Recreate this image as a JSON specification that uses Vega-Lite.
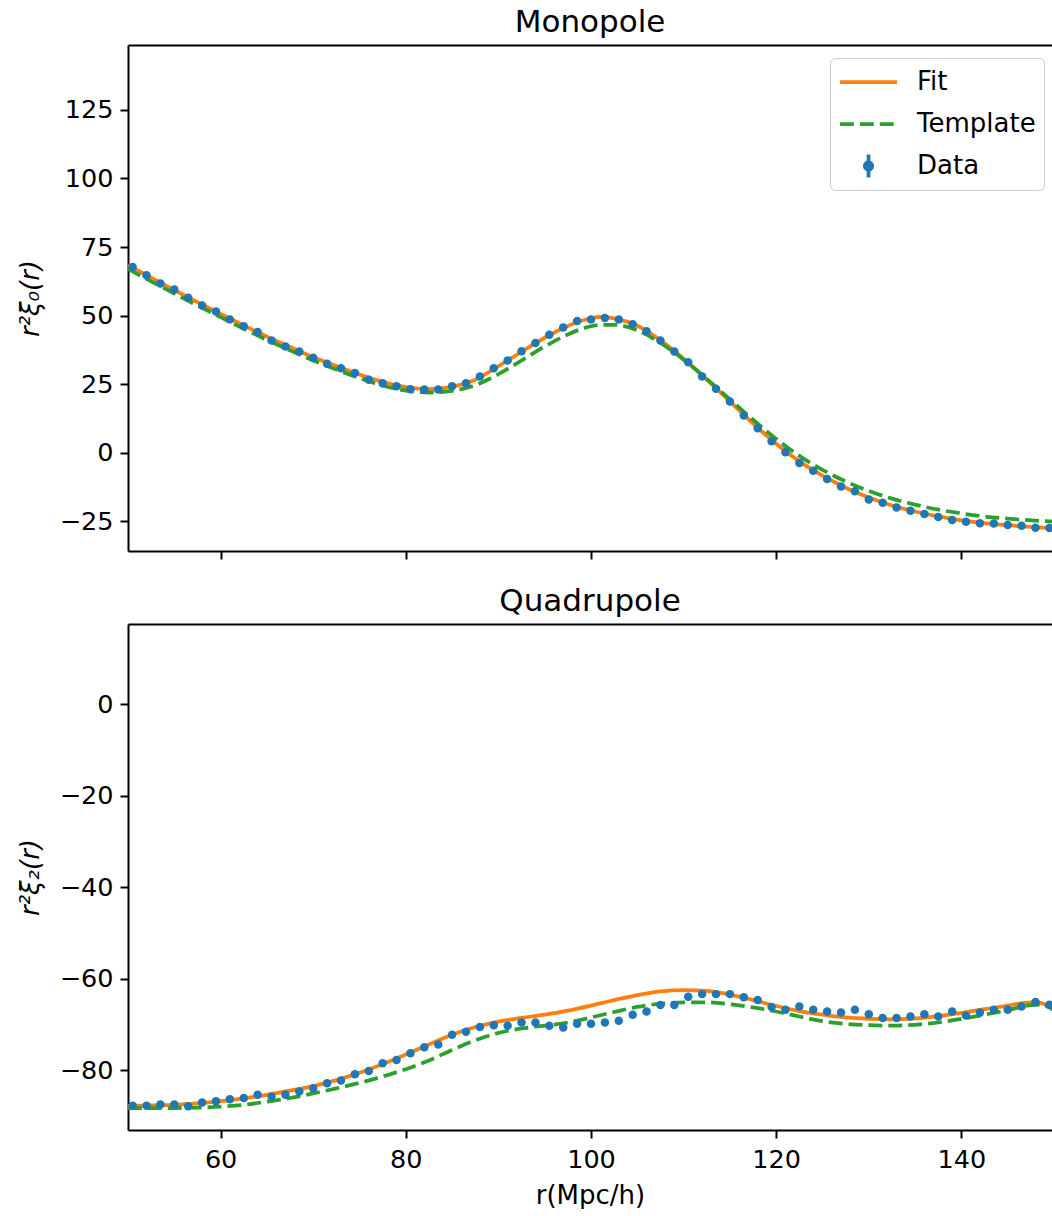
{
  "$schema": "https://vega.github.io/schema/vega-lite/v6.json",
  "padding": {"left": 17, "top": 7, "right": 0, "bottom": 0},
  "background": "white",
  "spacing": 26,
  "config": {
    "font": "DejaVu Sans",
    "view": {"stroke": null},
    "axis": {"grid": false, "domain": true, "domainColor": "black", "domainWidth": 2, "tickColor": "black", "tickWidth": 2, "tickSize": 8, "labelFontSize": 25.5, "labelColor": "black", "labelPadding": 7, "titleFontSize": 26, "titleFontWeight": "normal", "titleColor": "black", "labelFont": "DejaVu Sans", "titleFont": "DejaVu Sans"},
    "title": {"fontSize": 31, "fontWeight": "normal", "color": "black", "font": "DejaVu Sans"}
  },
  "resolve": {"legend": {"color": "independent"}},
  "datasets": {
    "mono": [
      {"s":"Fit","r":50,"v":68.4},{"s":"Fit","r":52.5,"v":63.8},{"s":"Fit","r":55,"v":59.3},{"s":"Fit","r":57.5,"v":54.9},{"s":"Fit","r":60,"v":50.6},{"s":"Fit","r":62.5,"v":46.4},{"s":"Fit","r":65,"v":42.3},{"s":"Fit","r":67.5,"v":38.5},{"s":"Fit","r":70,"v":34.8},{"s":"Fit","r":72.5,"v":31.6},{"s":"Fit","r":75,"v":28.5},{"s":"Fit","r":77.5,"v":25.8},{"s":"Fit","r":80,"v":23.9},{"s":"Fit","r":82.5,"v":23.2},{"s":"Fit","r":85,"v":24.0},{"s":"Fit","r":87.5,"v":26.6},{"s":"Fit","r":90,"v":31.5},{"s":"Fit","r":92.5,"v":36.8},{"s":"Fit","r":95,"v":41.9},{"s":"Fit","r":97.5,"v":46.2},{"s":"Fit","r":100,"v":49.0},{"s":"Fit","r":101,"v":49.5},{"s":"Fit","r":102.5,"v":49.0},{"s":"Fit","r":105,"v":46.3},{"s":"Fit","r":107.5,"v":41.0},{"s":"Fit","r":110,"v":34.3},{"s":"Fit","r":112.5,"v":26.6},{"s":"Fit","r":115,"v":18.7},{"s":"Fit","r":117.5,"v":10.6},{"s":"Fit","r":120,"v":3.2},{"s":"Fit","r":122.5,"v":-3.2},{"s":"Fit","r":125,"v":-8.4},{"s":"Fit","r":127.5,"v":-12.8},{"s":"Fit","r":130,"v":-16.4},{"s":"Fit","r":132.5,"v":-19.3},{"s":"Fit","r":135,"v":-21.5},{"s":"Fit","r":137.5,"v":-23.3},{"s":"Fit","r":140,"v":-24.7},{"s":"Fit","r":142.5,"v":-25.7},{"s":"Fit","r":145,"v":-26.5},{"s":"Fit","r":147.5,"v":-27.1},{"s":"Fit","r":150,"v":-27.6},
      {"s":"Template","r":50,"v":67.0},{"s":"Template","r":52.5,"v":62.5},{"s":"Template","r":55,"v":58.0},{"s":"Template","r":57.5,"v":53.7},{"s":"Template","r":60,"v":49.4},{"s":"Template","r":62.5,"v":45.2},{"s":"Template","r":65,"v":41.1},{"s":"Template","r":67.5,"v":37.3},{"s":"Template","r":70,"v":33.6},{"s":"Template","r":72.5,"v":30.3},{"s":"Template","r":75,"v":27.2},{"s":"Template","r":77.5,"v":24.5},{"s":"Template","r":80,"v":22.6},{"s":"Template","r":82.5,"v":21.9},{"s":"Template","r":85,"v":22.5},{"s":"Template","r":87.5,"v":24.6},{"s":"Template","r":90,"v":28.6},{"s":"Template","r":92.5,"v":33.6},{"s":"Template","r":95,"v":38.7},{"s":"Template","r":97.5,"v":43.1},{"s":"Template","r":100,"v":46.1},{"s":"Template","r":101,"v":46.6},{"s":"Template","r":102.5,"v":46.6},{"s":"Template","r":105,"v":44.6},{"s":"Template","r":107.5,"v":40.0},{"s":"Template","r":110,"v":33.9},{"s":"Template","r":112.5,"v":26.9},{"s":"Template","r":115,"v":19.4},{"s":"Template","r":117.5,"v":12.0},{"s":"Template","r":120,"v":5.0},{"s":"Template","r":122.5,"v":-1.2},{"s":"Template","r":125,"v":-6.3},{"s":"Template","r":127.5,"v":-10.5},{"s":"Template","r":130,"v":-14.0},{"s":"Template","r":132.5,"v":-16.8},{"s":"Template","r":135,"v":-19.0},{"s":"Template","r":137.5,"v":-20.8},{"s":"Template","r":140,"v":-22.2},{"s":"Template","r":142.5,"v":-23.3},{"s":"Template","r":145,"v":-24.1},{"s":"Template","r":147.5,"v":-24.7},{"s":"Template","r":150,"v":-25.2},
      {"s":"Data","r":50.5,"v":67.7},{"s":"Data","r":52,"v":64.7},{"s":"Data","r":53.5,"v":61.7},{"s":"Data","r":55,"v":59.5},{"s":"Data","r":56.5,"v":56.5},{"s":"Data","r":58,"v":53.7},{"s":"Data","r":59.5,"v":51.5},{"s":"Data","r":61,"v":48.6},{"s":"Data","r":62.5,"v":46.1},{"s":"Data","r":64,"v":44.0},{"s":"Data","r":65.5,"v":40.9},{"s":"Data","r":67,"v":38.7},{"s":"Data","r":68.5,"v":36.9},{"s":"Data","r":70,"v":34.6},{"s":"Data","r":71.5,"v":32.4},{"s":"Data","r":73,"v":30.8},{"s":"Data","r":74.5,"v":29.0},{"s":"Data","r":76,"v":26.6},{"s":"Data","r":77.5,"v":25.3},{"s":"Data","r":79,"v":24.2},{"s":"Data","r":80.5,"v":23.1},{"s":"Data","r":82,"v":23.0},{"s":"Data","r":83.5,"v":23.0},{"s":"Data","r":85,"v":24.2},{"s":"Data","r":86.5,"v":25.3},{"s":"Data","r":88,"v":27.8},{"s":"Data","r":89.5,"v":30.8},{"s":"Data","r":91,"v":33.6},{"s":"Data","r":92.5,"v":37.0},{"s":"Data","r":94,"v":40.0},{"s":"Data","r":95.5,"v":43.0},{"s":"Data","r":97,"v":45.6},{"s":"Data","r":98.5,"v":48.0},{"s":"Data","r":100,"v":48.6},{"s":"Data","r":101.5,"v":49.1},{"s":"Data","r":103,"v":48.6},{"s":"Data","r":104.5,"v":46.8},{"s":"Data","r":106,"v":44.3},{"s":"Data","r":107.5,"v":40.9},{"s":"Data","r":109,"v":36.9},{"s":"Data","r":110.5,"v":33.0},{"s":"Data","r":112,"v":27.8},{"s":"Data","r":113.5,"v":23.3},{"s":"Data","r":115,"v":18.6},{"s":"Data","r":116.5,"v":13.5},{"s":"Data","r":118,"v":8.9},{"s":"Data","r":119.5,"v":4.1},{"s":"Data","r":121,"v":0.1},{"s":"Data","r":122.5,"v":-3.8},{"s":"Data","r":124,"v":-6.6},{"s":"Data","r":125.5,"v":-9.6},{"s":"Data","r":127,"v":-12.4},{"s":"Data","r":128.5,"v":-14.1},{"s":"Data","r":130,"v":-17.1},{"s":"Data","r":131.5,"v":-18.3},{"s":"Data","r":133,"v":-20.0},{"s":"Data","r":134.5,"v":-21.2},{"s":"Data","r":136,"v":-22.4},{"s":"Data","r":137.5,"v":-23.5},{"s":"Data","r":139,"v":-24.6},{"s":"Data","r":140.5,"v":-25.2},{"s":"Data","r":142,"v":-25.8},{"s":"Data","r":143.5,"v":-25.9},{"s":"Data","r":145,"v":-26.4},{"s":"Data","r":146.5,"v":-26.7},{"s":"Data","r":148,"v":-27.4},{"s":"Data","r":149.5,"v":-27.5}
    ],
    "quad": [
      {"s":"Fit","r":50,"v":-87.8},{"s":"Fit","r":52.5,"v":-87.7},{"s":"Fit","r":55,"v":-87.6},{"s":"Fit","r":57.5,"v":-87.3},{"s":"Fit","r":60,"v":-86.8},{"s":"Fit","r":62.5,"v":-86.2},{"s":"Fit","r":65,"v":-85.4},{"s":"Fit","r":67.5,"v":-84.5},{"s":"Fit","r":70,"v":-83.5},{"s":"Fit","r":72.5,"v":-82.2},{"s":"Fit","r":75,"v":-80.6},{"s":"Fit","r":77.5,"v":-78.7},{"s":"Fit","r":80,"v":-76.6},{"s":"Fit","r":82.5,"v":-74.4},{"s":"Fit","r":85,"v":-72.3},{"s":"Fit","r":87.5,"v":-70.6},{"s":"Fit","r":90,"v":-69.4},{"s":"Fit","r":92.5,"v":-68.6},{"s":"Fit","r":95,"v":-67.9},{"s":"Fit","r":97.5,"v":-67.0},{"s":"Fit","r":100,"v":-65.9},{"s":"Fit","r":102.5,"v":-64.7},{"s":"Fit","r":105,"v":-63.6},{"s":"Fit","r":107.5,"v":-62.8},{"s":"Fit","r":110,"v":-62.5},{"s":"Fit","r":112.5,"v":-62.7},{"s":"Fit","r":115,"v":-63.5},{"s":"Fit","r":117.5,"v":-64.7},{"s":"Fit","r":120,"v":-66.0},{"s":"Fit","r":122.5,"v":-67.1},{"s":"Fit","r":125,"v":-67.9},{"s":"Fit","r":127.5,"v":-68.5},{"s":"Fit","r":130,"v":-68.8},{"s":"Fit","r":132.5,"v":-68.9},{"s":"Fit","r":135,"v":-68.7},{"s":"Fit","r":137.5,"v":-68.2},{"s":"Fit","r":140,"v":-67.5},{"s":"Fit","r":142.5,"v":-66.7},{"s":"Fit","r":145,"v":-65.9},{"s":"Fit","r":147.5,"v":-65.2},{"s":"Fit","r":148.5,"v":-65.3},{"s":"Fit","r":150,"v":-66.8},
      {"s":"Template","r":50,"v":-88.3},{"s":"Template","r":52.5,"v":-88.3},{"s":"Template","r":55,"v":-88.3},{"s":"Template","r":57.5,"v":-88.2},{"s":"Template","r":60,"v":-88.0},{"s":"Template","r":62.5,"v":-87.6},{"s":"Template","r":65,"v":-86.9},{"s":"Template","r":67.5,"v":-86.1},{"s":"Template","r":70,"v":-85.1},{"s":"Template","r":72.5,"v":-84.0},{"s":"Template","r":75,"v":-82.8},{"s":"Template","r":77.5,"v":-81.4},{"s":"Template","r":80,"v":-79.8},{"s":"Template","r":82.5,"v":-77.9},{"s":"Template","r":85,"v":-75.6},{"s":"Template","r":87.5,"v":-73.5},{"s":"Template","r":90,"v":-71.9},{"s":"Template","r":92.5,"v":-70.9},{"s":"Template","r":95,"v":-70.3},{"s":"Template","r":97.5,"v":-69.6},{"s":"Template","r":100,"v":-68.5},{"s":"Template","r":102.5,"v":-67.3},{"s":"Template","r":105,"v":-66.2},{"s":"Template","r":107.5,"v":-65.5},{"s":"Template","r":110,"v":-65.2},{"s":"Template","r":112.5,"v":-65.2},{"s":"Template","r":115,"v":-65.6},{"s":"Template","r":117.5,"v":-66.3},{"s":"Template","r":120,"v":-67.2},{"s":"Template","r":122.5,"v":-68.3},{"s":"Template","r":125,"v":-69.3},{"s":"Template","r":127.5,"v":-69.9},{"s":"Template","r":130,"v":-70.2},{"s":"Template","r":132.5,"v":-70.3},{"s":"Template","r":135,"v":-70.1},{"s":"Template","r":137.5,"v":-69.6},{"s":"Template","r":140,"v":-68.8},{"s":"Template","r":142.5,"v":-67.9},{"s":"Template","r":145,"v":-66.9},{"s":"Template","r":147.5,"v":-65.8},{"s":"Template","r":148.5,"v":-65.7},{"s":"Template","r":150,"v":-66.9},
      {"s":"Data","r":50.5,"v":-87.8},{"s":"Data","r":52,"v":-87.8},{"s":"Data","r":53.5,"v":-87.5},{"s":"Data","r":55,"v":-87.5},{"s":"Data","r":56.5,"v":-87.9},{"s":"Data","r":58,"v":-87.1},{"s":"Data","r":59.5,"v":-86.8},{"s":"Data","r":61,"v":-86.4},{"s":"Data","r":62.5,"v":-86.1},{"s":"Data","r":64,"v":-85.4},{"s":"Data","r":65.5,"v":-85.8},{"s":"Data","r":67,"v":-85.4},{"s":"Data","r":68.5,"v":-84.7},{"s":"Data","r":70,"v":-84.0},{"s":"Data","r":71.5,"v":-82.9},{"s":"Data","r":73,"v":-82.3},{"s":"Data","r":74.5,"v":-80.9},{"s":"Data","r":76,"v":-80.2},{"s":"Data","r":77.5,"v":-78.5},{"s":"Data","r":79,"v":-77.8},{"s":"Data","r":80.5,"v":-76.3},{"s":"Data","r":82,"v":-75.0},{"s":"Data","r":83.5,"v":-74.4},{"s":"Data","r":85,"v":-72.3},{"s":"Data","r":86.5,"v":-71.6},{"s":"Data","r":88,"v":-70.6},{"s":"Data","r":89.5,"v":-70.2},{"s":"Data","r":91,"v":-70.3},{"s":"Data","r":92.5,"v":-69.6},{"s":"Data","r":94,"v":-69.6},{"s":"Data","r":95.5,"v":-70.3},{"s":"Data","r":97,"v":-70.7},{"s":"Data","r":98.5,"v":-69.9},{"s":"Data","r":100,"v":-69.9},{"s":"Data","r":101.5,"v":-69.6},{"s":"Data","r":103,"v":-69.2},{"s":"Data","r":104.5,"v":-67.9},{"s":"Data","r":106,"v":-67.2},{"s":"Data","r":107.5,"v":-65.8},{"s":"Data","r":109,"v":-65.8},{"s":"Data","r":110.5,"v":-64.0},{"s":"Data","r":112,"v":-63.4},{"s":"Data","r":113.5,"v":-63.4},{"s":"Data","r":115,"v":-63.4},{"s":"Data","r":116.5,"v":-64.1},{"s":"Data","r":118,"v":-64.7},{"s":"Data","r":119.5,"v":-66.2},{"s":"Data","r":121,"v":-66.8},{"s":"Data","r":122.5,"v":-66.1},{"s":"Data","r":124,"v":-66.8},{"s":"Data","r":125.5,"v":-67.2},{"s":"Data","r":127,"v":-67.4},{"s":"Data","r":128.5,"v":-66.8},{"s":"Data","r":130,"v":-67.8},{"s":"Data","r":131.5,"v":-68.6},{"s":"Data","r":133,"v":-68.6},{"s":"Data","r":134.5,"v":-68.3},{"s":"Data","r":136,"v":-67.8},{"s":"Data","r":137.5,"v":-68.3},{"s":"Data","r":139,"v":-67.2},{"s":"Data","r":140.5,"v":-68.1},{"s":"Data","r":142,"v":-67.4},{"s":"Data","r":143.5,"v":-66.8},{"s":"Data","r":145,"v":-66.8},{"s":"Data","r":146.5,"v":-66.1},{"s":"Data","r":148,"v":-65.1},{"s":"Data","r":149.5,"v":-65.7}
    ]
  },
  "vconcat": [
    {
      "title": {"text": "Monopole", "offset": 6},
      "width": 924, "height": 506,
      "data": {"name": "mono"},
      "resolve": {"axis": {"x": "independent"}},
      "encoding": {
        "y": {"field": "v", "type": "quantitative", "scale": {"domain": [-35.9, 148.7], "nice": false, "zero": false}, "axis": {"values": [-25, 0, 25, 50, 75, 100, 125], "title": "r²ξ₀(r)", "titleFontStyle": "italic", "titlePadding": 16}},
        "color": {"field": "s", "type": "nominal", "scale": {"domain": ["Fit", "Template", "Data"], "range": ["#ff7f0e", "#2ca02c", "#1f77b4"]},
          "legend": {"title": null, "orient": "none", "legendX": 702, "legendY": 13, "labelFontSize": 26, "labelFont": "DejaVu Sans", "labelColor": "black", "fillColor": "rgba(255,255,255,0.8)", "strokeColor": "#cccccc", "cornerRadius": 5, "padding": 8, "symbolSize": 3249, "clipHeight": 32, "rowPadding": 10, "labelOffset": 18, "symbolType": "stroke", "symbolStrokeWidth": 3.75,
            "encode": {"symbols": {"update": {
              "shape": {"signal": "datum.value === 'Data' ? 'M0,-1L0,1M-0.32,0A0.32,0.32,0,1,0,0.32,0A0.32,0.32,0,1,0,-0.32,0Z' : 'stroke'"},
              "size": {"signal": "datum.value === 'Data' ? 529 : 3249"},
              "stroke": {"signal": "datum.value === 'Fit' ? '#ff7f0e' : datum.value === 'Template' ? '#2ca02c' : '#1f77b4'"},
              "fill": {"signal": "datum.value === 'Data' ? '#1f77b4' : 'transparent'"},
              "strokeWidth": {"value": 3.75},
              "strokeDash": {"signal": "datum.value === 'Template' ? [13.9, 6] : [1, 0]"},
              "opacity": {"value": 1}
            }}}}}
      },
      "layer": [
        {"transform": [{"filter": "datum.s === 'Fit'"}], "mark": {"type": "line", "strokeWidth": 3.75, "interpolate": "monotone", "clip": true},
         "encoding": {"x": {"field": "r", "type": "quantitative", "scale": {"domain": [50, 149.784], "nice": false, "zero": false}, "axis": {"orient": "bottom", "values": [60, 80, 100, 120, 140], "labels": false, "title": null}}}},
        {"transform": [{"filter": "datum.s === 'Template'"}], "mark": {"type": "line", "strokeWidth": 3.75, "strokeDash": [13.9, 6], "interpolate": "monotone", "clip": true},
         "encoding": {"x": {"field": "r", "type": "quantitative", "scale": {"domain": [50, 149.784], "nice": false, "zero": false}, "axis": {"orient": "top", "ticks": false, "labels": false, "title": null}}}},
        {"transform": [{"filter": "datum.s === 'Data'"}], "mark": {"type": "point", "filled": true, "size": 72, "opacity": 1},
         "encoding": {"x": {"field": "r", "type": "quantitative", "scale": {"domain": [50, 149.784], "nice": false, "zero": false}, "axis": null}}}
      ]
    },
    {
      "title": {"text": "Quadrupole", "offset": 6},
      "width": 924, "height": 506,
      "data": {"name": "quad"},
      "resolve": {"axis": {"x": "independent"}},
      "encoding": {
        "y": {"field": "v", "type": "quantitative", "scale": {"domain": [-93.1, 17.5], "nice": false, "zero": false}, "axis": {"values": [-80, -60, -40, -20, 0], "title": "r²ξ₂(r)", "titleFontStyle": "italic", "titlePadding": 16}},
        "color": {"field": "s", "type": "nominal", "scale": {"domain": ["Fit", "Template", "Data"], "range": ["#ff7f0e", "#2ca02c", "#1f77b4"]}, "legend": null}
      },
      "layer": [
        {"transform": [{"filter": "datum.s === 'Fit'"}], "mark": {"type": "line", "strokeWidth": 3.75, "interpolate": "monotone", "clip": true},
         "encoding": {"x": {"field": "r", "type": "quantitative", "scale": {"domain": [50, 149.784], "nice": false, "zero": false}, "axis": {"orient": "bottom", "values": [60, 80, 100, 120, 140], "title": "r(Mpc/h)", "labelPadding": 9, "titlePadding": 10}}}},
        {"transform": [{"filter": "datum.s === 'Template'"}], "mark": {"type": "line", "strokeWidth": 3.75, "strokeDash": [13.9, 6], "interpolate": "monotone", "clip": true},
         "encoding": {"x": {"field": "r", "type": "quantitative", "scale": {"domain": [50, 149.784], "nice": false, "zero": false}, "axis": {"orient": "top", "ticks": false, "labels": false, "title": null}}}},
        {"transform": [{"filter": "datum.s === 'Data'"}], "mark": {"type": "point", "filled": true, "size": 72, "opacity": 1},
         "encoding": {"x": {"field": "r", "type": "quantitative", "scale": {"domain": [50, 149.784], "nice": false, "zero": false}, "axis": null}}}
      ]
    }
  ]
}
